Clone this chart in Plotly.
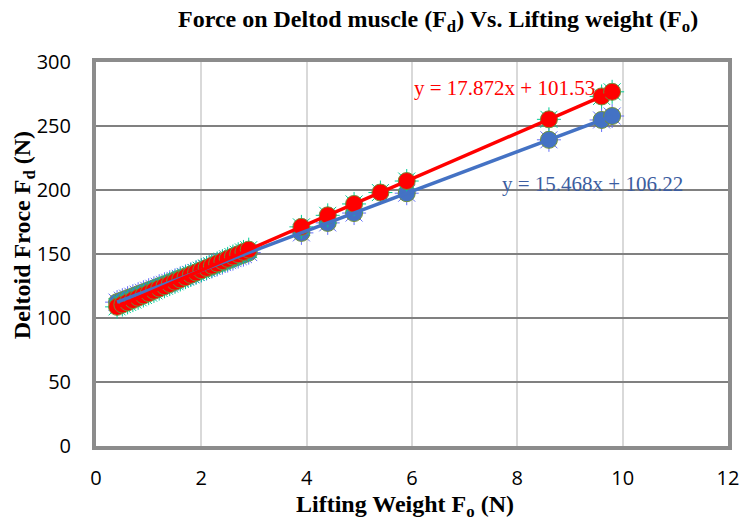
import numpy as np
import plotly.graph_objects as go

# ---- data ----
lift_red = [0.4, 0.5, 0.6, 0.7, 0.8, 0.9, 1.0, 1.1, 1.2, 1.3, 1.4, 1.5, 1.6, 1.7, 1.8, 1.9,
            2.0, 2.1, 2.2, 2.3, 2.4, 2.5, 2.6, 2.7, 2.8, 2.9, 3.9, 4.4, 4.9, 5.4, 5.9, 8.6, 9.6, 9.8]
force_red = [108.7, 110.5, 112.2, 114.0, 115.8, 117.6, 119.4, 121.2, 123.0, 124.8, 126.5, 128.3,
             130.1, 131.9, 133.7, 135.5, 137.3, 139.1, 140.8, 142.6, 144.4, 146.2, 148.0, 149.8,
             151.6, 153.4, 171.2, 180.2, 189.1, 198.0, 207.0, 255.2, 273.1, 276.7]

lift_blue = [0.4, 0.5, 0.6, 0.7, 0.8, 0.9, 1.0, 1.1, 1.2, 1.3, 1.4, 1.5, 1.6, 1.7, 1.8, 1.9,
             2.0, 2.1, 2.2, 2.3, 2.4, 2.5, 2.6, 2.7, 2.8, 2.9, 3.9, 4.4, 4.9, 5.9, 8.6, 9.6, 9.8]
force_blue = [112.4, 113.9, 115.5, 117.0, 118.6, 120.1, 121.7, 123.2, 124.8, 126.3, 127.9, 129.4,
              131.0, 132.5, 134.1, 135.6, 137.2, 138.7, 140.3, 141.8, 143.3, 144.9, 146.4, 148.0,
              149.5, 151.1, 166.5, 174.3, 182.0, 197.5, 239.2, 254.7, 257.8]

x_ticks = [0, 2, 4, 6, 8, 10, 12]
y_ticks = [0, 50, 100, 150, 200, 250, 300]

eq_red = "y = 17.872x + 101.53"
eq_blue = "y = 15.468x + 106.22"

RED = "#ff0000"
BLUE = "#4472c4"
BLUE_TXT = "#3c5da0"
SERIF = "Liberation Serif, Times New Roman, serif"
SANS = "Open Sans, Liberation Sans, sans-serif"

fig = go.Figure()

def trend(xs, ys):
    a, b = np.polyfit(xs, ys, 1)
    xx = np.array([min(xs), max(xs)])
    return xx, a * xx + b

for xs, ys, col in [(lift_blue, force_blue, BLUE), (lift_red, force_red, RED)]:
    # small spiky decoration behind each marker
    fig.add_trace(go.Scatter(x=xs, y=ys, mode="markers", hoverinfo="skip", showlegend=False,
                             marker=dict(symbol="asterisk-open", size=20,
                                         line=dict(color="#e0b020", width=1))))
    fig.add_trace(go.Scatter(x=xs, y=ys, mode="markers", showlegend=False,
                             marker=dict(symbol="circle", size=17, color=col,
                                         line=dict(color="#6f8f3a", width=1))))

for xs, ys, col in [(lift_blue, force_blue, BLUE), (lift_red, force_red, RED)]:
    tx, ty = trend(xs, ys)
    fig.add_trace(go.Scatter(x=tx, y=ty, mode="lines", showlegend=False,
                             line=dict(color=col, width=3.5)))

fig.add_annotation(x=6.0, y=280, xref="x", yref="y", text=eq_red, showarrow=False,
                   xanchor="left", yanchor="middle", font=dict(family=SERIF, size=21, color=RED))
fig.add_annotation(x=7.68, y=205, xref="x", yref="y", text=eq_blue, showarrow=False,
                   xanchor="left", yanchor="middle", font=dict(family=SERIF, size=21, color=BLUE_TXT))

# title and axis titles
fig.add_annotation(x=0.541, y=1.107, xref="paper", yref="paper", showarrow=False,
                   xanchor="center", yanchor="middle",
                   text="<b>Force on Deltod muscle (F<sub>d</sub>) Vs. Lifting weight (F<sub>o</sub>)</b>",
                   font=dict(family=SERIF, size=24, color="black"))
fig.add_annotation(x=0.489, y=-0.155, xref="paper", yref="paper", showarrow=False,
                   xanchor="center", yanchor="middle",
                   text="<b>Lifting Weight F<sub>o</sub> (N)</b>",
                   font=dict(family=SERIF, size=24, color="black"))
fig.add_annotation(x=-0.114, y=0.549, xref="paper", yref="paper", showarrow=False,
                   xanchor="center", yanchor="middle", textangle=-90,
                   text="<b>Deltoid Froce F<sub>d</sub> (N)</b>",
                   font=dict(family=SERIF, size=24, color="black"))

fig.update_layout(
    width=740, height=520,
    margin=dict(l=96, r=12, t=62, b=74),
    paper_bgcolor="white", plot_bgcolor="white",
    xaxis=dict(range=[0, 12], tickvals=x_ticks, showgrid=True, gridcolor="#d9d9d9", gridwidth=2,
               zeroline=False, showline=True, mirror=True, linecolor="#8c8c8c", linewidth=4,
               tickfont=dict(family=SANS, size=20, color="black"), ticklabelstandoff=11,
               automargin=False),
    yaxis=dict(range=[0, 300], tickvals=y_ticks, showgrid=True, gridcolor="#808080", gridwidth=2,
               zeroline=False, showline=True, mirror=True, linecolor="#8c8c8c", linewidth=4,
               tickfont=dict(family=SANS, size=20, color="black"), ticklabelstandoff=17,
               automargin=False),
)

# remove the default page margin so the 740x520 figure fills the window exactly
fig.write_html("out.html", config={"displayModeBar": False},
               post_script="document.body.style.margin='0';document.body.style.overflow='hidden';")
